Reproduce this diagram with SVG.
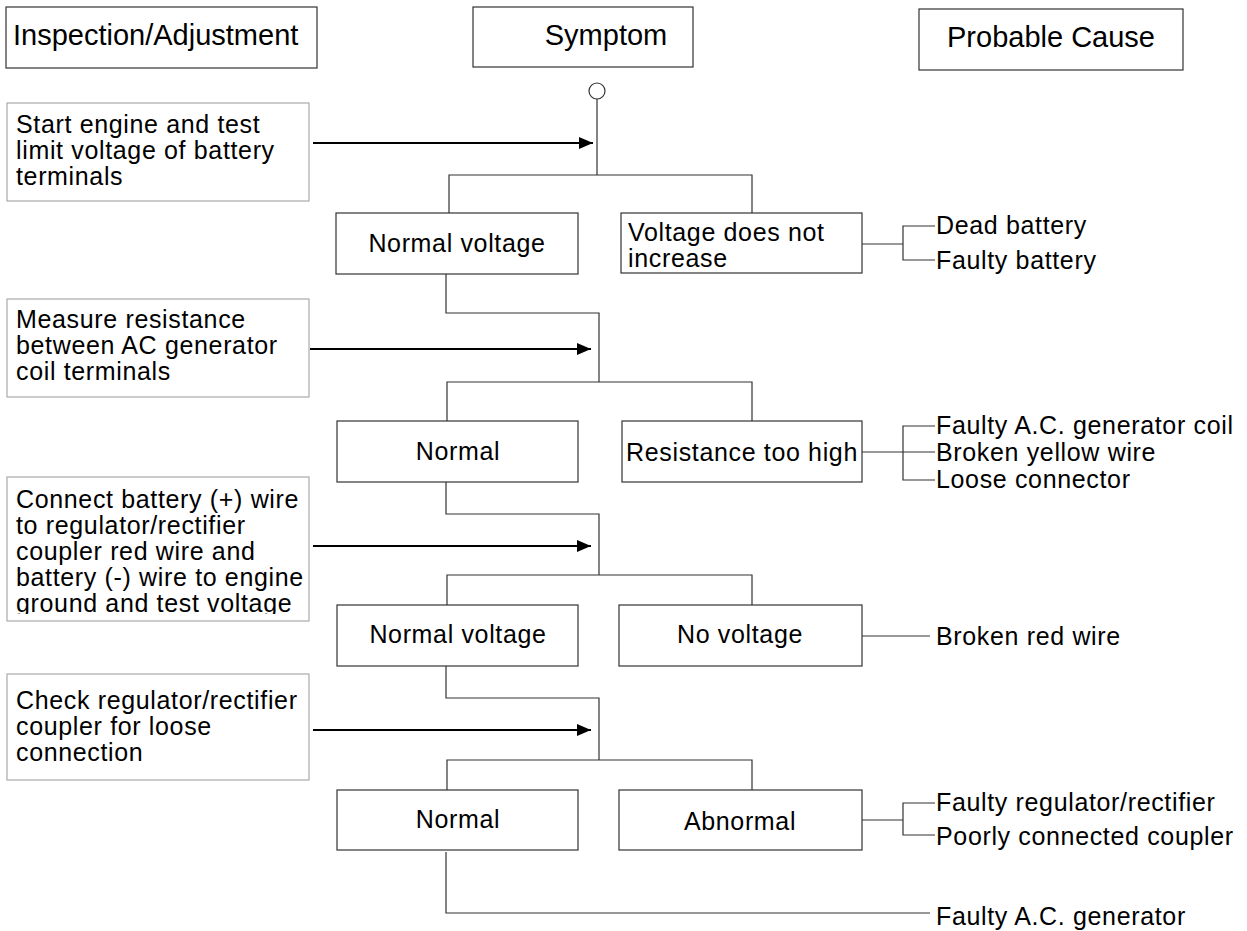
<svg xmlns="http://www.w3.org/2000/svg" width="1247" height="931" viewBox="0 0 1247 931">
<style>
text{font-family:"Liberation Sans",Arial,sans-serif;fill:#000}
.h{font-size:29px}
.t{font-size:25px;letter-spacing:0.65px}
.c{text-anchor:middle}
.hb{fill:#fff;stroke:#333;stroke-width:1.2}
.lb{fill:#fff;stroke:#aaa;stroke-width:1.2}
.sb{fill:#fff;stroke:#333;stroke-width:1.2}
.ln{fill:none;stroke:#333;stroke-width:1.2}
.ar{fill:none;stroke:#000;stroke-width:1.8}
</style>
<defs>
<marker id="ah" markerUnits="userSpaceOnUse" markerWidth="14" markerHeight="12" refX="14" refY="6" orient="auto">
<path d="M0,0 L14,6 L0,12 z" fill="#000"/>
</marker>
<clipPath id="cc"><rect x="7" y="477" width="302" height="137"/></clipPath>
</defs>

<g id="hdr-inspection"><rect class="hb" x="6" y="7" width="311" height="61"/><text class="h" x="13" y="45">Inspection/Adjustment</text></g>
<g id="hdr-symptom"><rect class="hb" x="473" y="7" width="220" height="60"/><text class="h c" x="606" y="45">Symptom</text></g>
<g id="hdr-cause"><rect class="hb" x="919" y="9" width="264" height="61"/><text class="h c" x="1051" y="47">Probable Cause</text></g>

<g id="start"><circle cx="597" cy="91" r="8" fill="#fff" stroke="#333" stroke-width="1.2"/></g>

<g id="insp1"><rect class="lb" x="7" y="103" width="302" height="98"/><text class="t" x="16" y="133">Start engine and test</text><text class="t" x="16" y="159">limit voltage of battery</text><text class="t" x="16" y="185">terminals</text></g>
<g id="insp2"><rect class="lb" x="7" y="299" width="302" height="98"/><text class="t" x="16" y="328">Measure resistance</text><text class="t" x="16" y="354">between AC generator</text><text class="t" x="16" y="380">coil terminals</text></g>
<g id="insp3"><rect class="lb" x="7" y="477" width="302" height="144"/><g clip-path="url(#cc)"><text class="t" x="16" y="508">Connect battery (+) wire</text><text class="t" x="16" y="534">to regulator/rectifier</text><text class="t" x="16" y="560">coupler red wire and</text><text class="t" x="16" y="586">battery (-) wire to engine</text><text class="t" x="16" y="612">ground and test voltage</text></g></g>
<g id="insp4"><rect class="lb" x="7" y="674" width="302" height="106"/><text class="t" x="16" y="709">Check regulator/rectifier</text><text class="t" x="16" y="735">coupler for loose</text><text class="t" x="16" y="761">connection</text></g>

<g id="s-normal-voltage-1"><rect class="sb" x="336" y="213" width="242" height="61"/><text class="t c" x="457" y="252">Normal voltage</text></g>
<g id="s-no-increase"><rect class="sb" x="621" y="213" width="241" height="60"/><text class="t" x="628" y="241">Voltage does not</text><text class="t" x="628" y="267">increase</text></g>
<g id="s-normal-1"><rect class="sb" x="337" y="421" width="241" height="61"/><text class="t c" x="458" y="460">Normal</text></g>
<g id="s-res-high"><rect class="sb" x="622" y="421" width="240" height="61"/><text class="t c" x="742" y="461">Resistance too high</text></g>
<g id="s-normal-voltage-2"><rect class="sb" x="337" y="605" width="241" height="61"/><text class="t c" x="458" y="643">Normal voltage</text></g>
<g id="s-no-voltage"><rect class="sb" x="619" y="605" width="243" height="61"/><text class="t c" x="740" y="643">No voltage</text></g>
<g id="s-normal-2"><rect class="sb" x="337" y="790" width="241" height="60"/><text class="t c" x="458" y="828">Normal</text></g>
<g id="s-abnormal"><rect class="sb" x="619" y="790" width="243" height="60"/><text class="t c" x="740" y="830">Abnormal</text></g>

<g id="causes">
<text class="t" x="936" y="234">Dead battery</text>
<text class="t" x="936" y="269">Faulty battery</text>
<text class="t" x="936" y="434">Faulty A.C. generator coil</text>
<text class="t" x="936" y="461">Broken yellow wire</text>
<text class="t" x="936" y="488">Loose connector</text>
<text class="t" x="936" y="645">Broken red wire</text>
<text class="t" x="936" y="811">Faulty regulator/rectifier</text>
<text class="t" x="936" y="845">Poorly connected coupler</text>
<text class="t" x="936" y="925">Faulty A.C. generator</text>
</g>

<g id="connectors">
<path class="ln" d="M597,99 V175 M449,213 V175 H752 V213"/>
<path class="ln" d="M862,244 H903 M935,226 H903 V260 H935"/>
<path class="ln" d="M446,274 V313 H599 V382 M447,421 V382 H752 V421"/>
<path class="ln" d="M862,452 H935 M935,426 H903 V480 H935"/>
<path class="ln" d="M446,482 V514 H599 V575 M447,605 V575 H752 V605"/>
<path class="ln" d="M862,636 H930"/>
<path class="ln" d="M446,666 V698 H599 V760 M447,790 V760 H752 V790"/>
<path class="ln" d="M862,820 H903 M935,803 H903 V835 H935"/>
<path class="ln" d="M446,852 V913 H930"/>
<line class="ar" x1="313" y1="143" x2="593" y2="143" marker-end="url(#ah)"/>
<line class="ar" x1="310" y1="349" x2="591" y2="349" marker-end="url(#ah)"/>
<line class="ar" x1="313" y1="546" x2="591" y2="546" marker-end="url(#ah)"/>
<line class="ar" x1="313" y1="730" x2="591" y2="730" marker-end="url(#ah)"/>
</g>
</svg>
